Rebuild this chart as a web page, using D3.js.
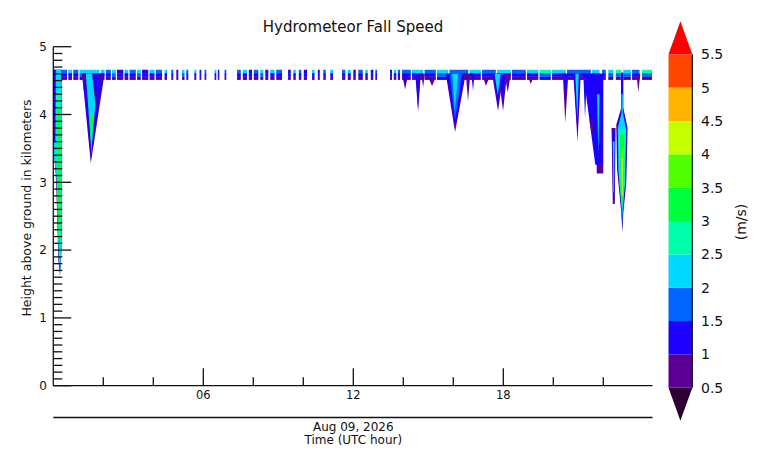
<!DOCTYPE html>
<html><head><meta charset="utf-8">
<script src="https://cdn.jsdelivr.net/npm/d3@7"></script>
<style>body{margin:0;background:#fff}svg{display:block}text{font-family:"DejaVu Sans",sans-serif;fill:#111}</style>
</head><body><svg id="c" width="769" height="467"></svg>
<script>
// ---------- data ----------
const title = "Hydrometeor Fall Speed";
const yLabel = "Height above ground in kilometers";
const dateLabel = "Aug 09, 2026";
const xLabel = "Time (UTC hour)";
const unitLabel = "(m/s)";
const xMajorTicks = [6, 12, 18];
const xTickLabels = ["06", "12", "18"];
const xMinorTicks = [2, 4, 8, 10, 14, 16, 20, 22];
const yMajorTicks = [0, 1, 2, 3, 4, 5];
const speedLevels = [0.5, 1, 1.5, 2, 2.5, 3, 3.5, 4, 4.5, 5, 5.5];
const levelLabels = ["0.5", "1", "1.5", "2", "2.5", "3", "3.5", "4", "4.5", "5", "5.5"];
const levelColors = ["#2c0032", "#5b0096", "#1e00ff", "#0064ff", "#00d8ff", "#00ffaa",
                     "#00ff3c", "#50ff00", "#c8ff00", "#ffb400", "#ff4600", "#ff0000"];
// band heights (km): upper, middle, lower layer boundaries
const bandLayers = [[4.66, 4.61], [4.61, 4.555], [4.555, 4.51]];
// band segments: [startHour, endHour, upperSpeed, middleSpeed, lowerSpeed]
const band = [
  [0.00,0.30,2.25,2.25,2.25],[0.30,0.55,1.75,1.25,0.75],[0.60,0.75,2.25,1.25,0.75],
  [0.80,1.00,1.75,1.25,0.75],[1.05,1.85,2.25,1.75,1.25],[1.90,2.05,2.25,1.25,0.75],
  [2.10,2.30,1.75,1.25,0.75],[2.35,2.50,2.25,1.75,0.75],[2.55,2.80,1.25,1.25,0.75],
  [2.85,3.00,2.25,1.25,0.75],[3.05,3.30,1.75,1.25,0.75],[3.35,3.50,2.25,1.75,0.75],
  [3.55,3.80,1.25,1.25,0.75],[3.85,4.05,2.25,1.25,0.75],[4.10,4.35,1.75,1.25,0.75],
  [4.45,4.55,2.25,1.25,0.75],[4.72,4.80,1.75,1.25,0.75],[4.92,5.00,1.25,1.25,0.75],
  [5.15,5.25,2.25,1.75,0.75],[5.32,5.40,1.75,1.25,0.75],[5.64,5.72,2.25,1.25,0.75],
  [5.85,5.92,1.25,1.25,0.75],[6.05,6.12,1.75,1.25,0.75],[6.45,6.52,2.25,1.25,0.75],
  [6.58,6.64,1.25,1.25,0.75],[6.85,6.92,1.75,1.25,0.75],
  [7.35,7.50,1.75,1.25,0.75],[7.58,7.75,2.25,1.25,0.75],[7.82,7.95,1.25,1.25,0.75],
  [8.02,8.20,1.75,1.25,0.75],[8.28,8.40,2.25,1.75,0.75],[8.48,8.60,1.25,1.25,0.75],
  [8.68,8.85,2.25,1.25,0.75],[8.92,9.15,1.75,1.25,0.75],
  [9.39,9.50,1.25,1.25,0.75],[9.60,9.70,2.25,1.25,0.75],[9.82,9.92,1.75,1.25,0.75],
  [10.02,10.15,1.25,1.25,0.75],
  [10.35,10.45,2.25,1.25,0.75],[10.58,10.66,1.25,1.25,0.75],[10.80,10.90,1.75,1.25,0.75],
  [11.08,11.19,2.25,1.25,0.75],
  [11.55,11.68,1.75,1.25,0.75],[11.78,11.90,2.25,1.25,0.75],[12.00,12.10,1.25,1.25,0.75],
  [12.20,12.38,1.75,1.25,0.75],[12.48,12.58,2.25,1.25,0.75],[12.70,12.80,1.25,1.25,0.75],
  [12.88,12.95,1.75,1.25,0.75],
  [13.47,13.55,1.25,1.25,0.75],[13.62,13.72,2.25,1.25,0.75],[13.78,13.87,1.75,1.25,0.75],
  [13.95,14.30,1.75,1.25,0.75],[14.35,14.80,2.25,1.25,0.75],[14.85,15.30,1.75,1.25,0.75],
  [15.35,15.80,2.25,1.75,1.25],[15.85,16.60,1.75,1.25,0.75],[16.65,17.10,2.25,1.25,0.75],
  [17.15,17.70,1.75,1.25,0.75],[17.75,18.30,2.25,1.25,0.75],[18.35,18.90,1.75,1.25,0.75],
  [18.95,19.40,2.25,1.25,0.75],[19.45,19.90,2.75,1.75,1.25],[19.95,20.50,2.25,1.25,0.75],
  [20.55,21.50,1.75,1.25,0.75],[21.55,21.85,2.25,1.25,0.75],[21.95,22.10,1.75,1.25,0.75],
  [22.20,22.40,2.25,1.75,0.75],[22.50,22.70,2.75,1.75,0.75],[22.80,23.10,2.25,1.75,0.75],
  [23.15,23.45,1.75,1.25,0.75],[23.55,23.95,2.75,1.75,0.75]
];
// fall streaks below the band: [leftHour, rightHour, tipLeftHour, tipRightHour, topKm, tipKm, speed]
const streaks = [
  // 01-02 UTC
  [1.15,2.05,1.50,1.50,4.60,3.28,0.75],[1.17,2.00,1.50,1.50,4.60,3.36,1.25],
  [1.30,1.80,1.52,1.52,4.60,3.48,2.25],[1.45,1.60,1.53,1.53,4.00,3.40,3.25],
  [1.15,1.30,1.22,1.22,4.60,4.35,0.75],[1.55,1.80,1.72,1.72,4.60,4.05,0.75],
  [1.60,1.76,1.72,1.72,4.60,4.15,1.25],[1.80,1.95,1.88,1.88,4.60,4.45,0.75],
  // 14-18 UTC
  [13.95,14.20,14.07,14.07,4.60,4.37,0.75],[13.97,14.17,14.07,14.07,4.60,4.44,1.25],
  [14.48,14.70,14.59,14.59,4.60,4.04,0.75],[14.50,14.68,14.59,14.59,4.60,4.10,1.25],
  [14.72,14.86,14.79,14.79,4.60,4.40,0.75],[15.00,15.30,15.15,15.15,4.55,4.42,0.75],
  [15.70,16.50,16.07,16.07,4.60,3.74,0.75],[15.72,16.45,16.07,16.07,4.60,3.82,1.25],
  [15.85,16.35,16.07,16.07,4.60,3.92,1.75],[15.95,16.20,16.06,16.06,4.60,4.05,2.25],
  [16.50,16.68,16.59,16.59,4.60,4.20,0.75],[16.72,16.85,16.79,16.79,4.60,4.35,1.25],
  [17.20,17.45,17.30,17.30,4.55,4.42,0.75],
  [17.55,18.00,17.79,17.79,4.60,4.05,0.75],[17.80,18.15,17.99,17.99,4.60,4.05,0.75],
  [17.60,17.95,17.79,17.79,4.60,4.13,1.25],[17.85,18.10,17.99,17.99,4.60,4.13,1.25],
  [17.65,17.90,17.78,17.78,4.60,4.28,2.25],[18.05,18.30,18.18,18.18,4.60,4.33,0.75],
  [19.00,19.20,19.10,19.10,4.55,4.45,0.75],
  // 20-23 UTC
  [20.38,20.60,20.48,20.48,4.60,3.88,0.75],[20.40,20.58,20.48,20.48,4.60,4.22,1.25],
  [20.80,21.10,20.97,20.97,4.60,3.60,0.75],[20.82,21.08,20.97,20.97,4.60,3.70,1.25],
  [20.88,21.02,20.96,20.96,4.60,3.92,2.25],[21.20,21.35,21.27,21.27,4.60,3.95,1.25],
  [21.42,21.70,21.58,21.58,4.60,3.60,0.75],[21.44,21.68,21.58,21.58,4.60,3.68,1.25],
  [21.68,22.00,21.74,22.00,4.60,3.13,0.75],[21.20,21.99,21.68,21.97,4.60,3.26,1.25],
  [21.45,21.60,21.52,21.58,3.90,3.75,0.75],[21.75,21.85,21.80,21.80,4.30,3.40,2.25],
  [23.33,23.48,23.40,23.40,4.60,4.33,0.75]
];
// irregular patches: speed and outline as [hour, km] pairs
const patches = [
  {v:0.75, p:[[0,4.66],[0.33,4.66],[0.33,2.0],[0.27,1.62],[0.20,1.85],[0.15,2.6],[0.10,3.1],[0,3.55]]},
  {v:2.25, p:[[0,4.66],[0.31,4.66],[0.32,2.0],[0.28,1.70],[0.22,1.88],[0.17,2.6],[0.12,3.1],[0,3.5]]},
  {v:1.25, p:[[0,4.66],[0.10,4.66],[0.08,3.6],[0,3.6]]},
  {v:2.75, p:[[0.11,4.35],[0.29,4.35],[0.30,2.2],[0.26,1.78],[0.20,2.2],[0.14,3.2]]},
  {v:3.25, p:[[0.15,4.10],[0.28,4.10],[0.29,2.3],[0.26,1.80],[0.21,2.3],[0.17,3.2]]},
  {v:4.75, p:[[0.23,2.30],[0.27,2.30],[0.26,1.90],[0.24,1.90]]},
  {v:5.25, p:[[0.245,2.2],[0.265,2.2],[0.26,1.95],[0.25,1.95]]},
  {v:0.75, p:[[0,3.90],[0.07,3.90],[0.07,3.75],[0,3.75]]},
  {v:0.75, p:[[22.70,4.62],[22.80,4.62],[22.80,4.10],[22.97,3.80],[22.92,3.0],[22.80,2.55],[22.76,2.26],[22.72,2.55],[22.55,3.2],[22.52,3.85],[22.72,4.10]]},
  {v:1.25, p:[[22.71,4.61],[22.79,4.61],[22.79,4.08],[22.95,3.80],[22.90,3.0],[22.79,2.58],[22.76,2.32],[22.73,2.58],[22.57,3.2],[22.54,3.85],[22.72,4.08]]},
  {v:2.25, p:[[22.73,4.30],[22.78,4.30],[22.78,4.02],[22.92,3.78],[22.87,3.0],[22.78,2.62],[22.75,2.40],[22.73,2.62],[22.60,3.2],[22.58,3.80],[22.73,4.02]]},
  {v:2.75, p:[[22.62,3.78],[22.88,3.78],[22.85,2.95],[22.76,2.62],[22.66,2.95]]},
  {v:3.25, p:[[22.66,3.70],[22.84,3.70],[22.82,2.90],[22.76,2.66],[22.70,2.90]]},
  {v:3.75, p:[[22.70,3.50],[22.81,3.50],[22.79,2.85],[22.75,2.75],[22.72,2.85]]},
  {v:4.25, p:[[22.73,3.35],[22.79,3.35],[22.78,2.80],[22.75,2.80]]},
  {v:0.75, p:[[22.33,3.80],[22.49,3.80],[22.46,2.68],[22.38,2.68]]},
  {v:1.25, p:[[22.35,3.76],[22.47,3.76],[22.44,2.74],[22.39,2.74]]},
  {v:2.25, p:[[22.38,3.60],[22.45,3.60],[22.43,2.85],[22.40,2.85]]}
];

// ---------- drawing ----------
const svg = d3.select("#c");
const x = d3.scaleLinear().domain([0, 24]).range([53.3, 653.3]);
const y = d3.scaleLinear().domain([0, 5]).range([385.7, 46.7]);
const color = d3.scaleThreshold().domain(speedLevels).range(levelColors);

const plot = svg.append("g");
band.forEach(b => {
  bandLayers.forEach((L, i) => {
    plot.append("rect")
      .attr("x", x(b[0])).attr("width", x(b[1]) - x(b[0]))
      .attr("y", y(L[0])).attr("height", y(L[1]) - y(L[0]))
      .attr("fill", color(b[2 + i]));
  });
});
const line = d3.line().x(d => x(d[0])).y(d => y(d[1]));
streaks.forEach(s => {
  const pts = [[s[0], s[4]], [s[1], s[4]], [s[3], s[5]], [s[2], s[5]]];
  plot.append("path").attr("d", line(pts) + "Z").attr("fill", color(s[6]));
});
patches.forEach(pc => {
  plot.append("path").attr("d", line(pc.p) + "Z").attr("fill", color(pc.v));
});

// axes
const ax = svg.append("g").attr("stroke", "#111").attr("stroke-width", 1.3).attr("fill", "none");
ax.append("line").attr("x1", x(0)).attr("x2", x(0)).attr("y1", y(5)).attr("y2", y(0));
ax.append("line").attr("x1", x(0)).attr("x2", 652.5).attr("y1", y(0)).attr("y2", y(0));
d3.range(0, 50).forEach(i => {
  if (i % 10 === 0) return;
  ax.append("line").attr("x1", x(0)).attr("x2", x(0) + 9).attr("y1", y(i / 10)).attr("y2", y(i / 10));
});
yMajorTicks.forEach(v => {
  ax.append("line").attr("x1", x(0)).attr("x2", x(0) + 18).attr("y1", y(v)).attr("y2", y(v));
  svg.append("text").attr("x", 47).attr("y", y(v)).attr("dy", "0.35em")
    .attr("text-anchor", "end").attr("font-size", 12).text(v);
});
xMinorTicks.forEach(v => {
  ax.append("line").attr("x1", x(v)).attr("x2", x(v)).attr("y1", y(0)).attr("y2", y(0) - 8.5);
});
xMajorTicks.forEach((v, i) => {
  ax.append("line").attr("x1", x(v)).attr("x2", x(v)).attr("y1", y(0)).attr("y2", y(0) - 17.5);
  svg.append("text").attr("x", x(v)).attr("y", 399).attr("text-anchor", "middle")
    .attr("font-size", 11.5).text(xTickLabels[i]);
});
ax.append("line").attr("x1", x(0)).attr("x2", 652.5).attr("y1", 417.5).attr("y2", 417.5);
svg.append("text").attr("x", x(12)).attr("y", 430.5).attr("text-anchor", "middle").attr("font-size", 12).text(dateLabel);
svg.append("text").attr("x", x(12)).attr("y", 443.5).attr("text-anchor", "middle").attr("font-size", 12).text(xLabel);
svg.append("text").attr("transform", "translate(31,208) rotate(-90)").attr("text-anchor", "middle")
  .attr("font-size", 12.5).text(yLabel);
svg.append("text").attr("x", 353).attr("y", 32).attr("text-anchor", "middle").attr("font-size", 15).text(title);

// colorbar
const cb = d3.scaleLinear().domain([0.5, 5.5]).range([387.7, 54.3]);
const cbX0 = 668.5, cbX1 = 692.3;
for (let i = 0; i < speedLevels.length - 1; i++) {
  svg.append("rect").attr("x", cbX0).attr("width", cbX1 - cbX0)
    .attr("y", cb(speedLevels[i + 1])).attr("height", cb(speedLevels[i]) - cb(speedLevels[i + 1]))
    .attr("fill", levelColors[i + 1]);
}
svg.append("path").attr("d", `M${cbX0},${cb(5.5)}L${cbX1},${cb(5.5)}L${(cbX0 + cbX1) / 2},${cb(5.5) - 33}Z`)
  .attr("fill", levelColors[levelColors.length - 1]);
svg.append("path").attr("d", `M${cbX0},${cb(0.5)}L${cbX1},${cb(0.5)}L${(cbX0 + cbX1) / 2},${cb(0.5) + 33}Z`)
  .attr("fill", levelColors[0]);
svg.append("line").attr("x1", cbX1).attr("x2", cbX1).attr("y1", cb(5.5)).attr("y2", cb(0.5))
  .attr("stroke", "#111").attr("stroke-width", 1.2);
speedLevels.forEach((v, i) => {
  svg.append("text").attr("x", 701).attr("y", cb(v)).attr("dy", "0.36em").attr("font-size", 14).text(levelLabels[i]);
});
svg.append("text").attr("transform", "translate(746,222) rotate(-90)").attr("text-anchor", "middle")
  .attr("font-size", 14).text(unitLabel);
</script></body></html>
